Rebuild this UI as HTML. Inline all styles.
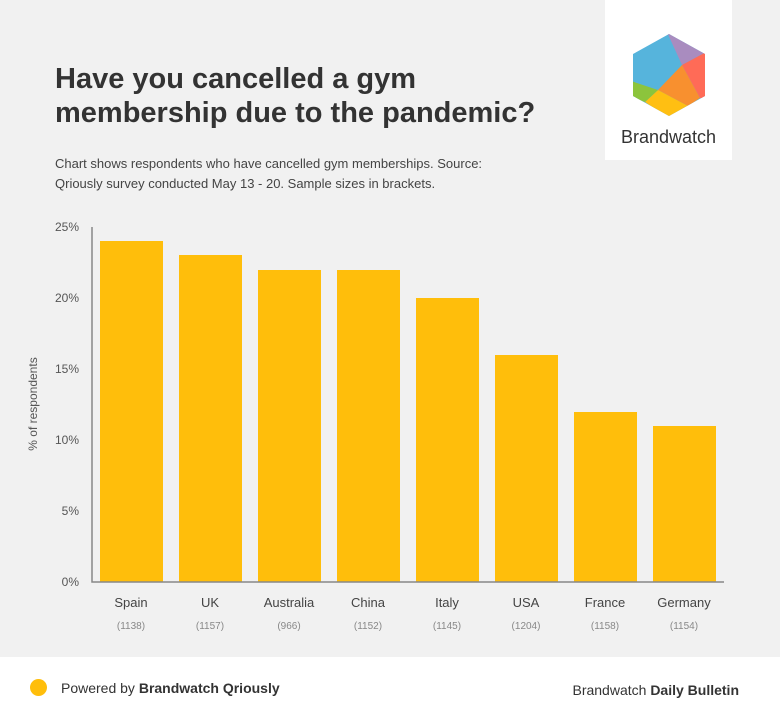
<!DOCTYPE html><html><head><style>
body{margin:0;width:780px;height:718px;background:#f1f1f1;font-family:"Liberation Sans",Arial,sans-serif;position:relative;overflow:hidden}
.a{position:absolute}
</style></head><body>
<div class="a" style="left:605px;top:0;width:127px;height:160px;background:#fff"></div>
<svg class="a" style="left:628px;top:33px" width="84" height="84" viewBox="628 33 84 84">
<defs><clipPath id="h"><polygon points="669,34 705,54 705,96 669,116 633,96 633,54" stroke-linejoin="round"/></clipPath></defs>
<g clip-path="url(#h)">
<rect x="628" y="33" width="84" height="84" fill="#56b4dc"/>
<polygon points="666,30 710,30 710,50 682,65" fill="#a98cbf"/>
<polygon points="682,65 710,50 710,100 700,98" fill="#ff6b57"/>
<polygon points="682,65 700,98 688,106 658,90" fill="#f8902f"/>
<polygon points="658,90 688,106 669,118 645,102" fill="#ffbf12"/>
<polygon points="628,80 658,90 645,102 628,96" fill="#8cc43c"/>
</g></svg>
<div class="a" style="left:605px;top:127px;width:127px;text-align:center;font-size:18px;color:#333">Brandwatch</div>
<div class="a" style="left:55px;top:62px;font-size:29px;font-weight:bold;color:#333;line-height:34px">Have you cancelled a gym<br>membership due to the pandemic?</div>
<div class="a" style="left:55px;top:154px;font-size:13px;color:#444;line-height:20px">Chart shows respondents who have cancelled gym memberships. Source:<br>Qriously survey conducted May 13 - 20. Sample sizes in brackets.</div>
<svg class="a" style="left:0;top:0" width="780" height="718">
<g font-size="12" fill="#555" text-anchor="end" font-family="Liberation Sans">
<text x="79" y="231">25%</text><text x="79" y="302">20%</text><text x="79" y="373">15%</text><text x="79" y="444">10%</text><text x="79" y="515">5%</text><text x="79" y="586">0%</text>
</g>
<text transform="translate(37,404) rotate(-90)" font-size="12" fill="#555" text-anchor="middle">% of respondents</text>
<g fill="#ffbe0b">
<rect x="100" y="241" width="63" height="341"/><rect x="179" y="255" width="63" height="327"/>
<rect x="258" y="270" width="63" height="312"/><rect x="337" y="270" width="63" height="312"/>
<rect x="416" y="298" width="63" height="284"/><rect x="495" y="355" width="63" height="227"/>
<rect x="574" y="412" width="63" height="170"/><rect x="653" y="426" width="63" height="156"/>
</g>
<path d="M92 227V582H724" stroke="#888" fill="none" stroke-width="1.5"/>
<g font-size="13" fill="#444" text-anchor="middle">
<text x="131" y="607">Spain</text><text x="210" y="607">UK</text><text x="289" y="607">Australia</text><text x="368" y="607">China</text><text x="447" y="607">Italy</text><text x="526" y="607">USA</text><text x="605" y="607">France</text><text x="684" y="607">Germany</text>
</g>
<g font-size="10" fill="#888" text-anchor="middle">
<text x="131" y="629">(1138)</text><text x="210" y="629">(1157)</text><text x="289" y="629">(966)</text><text x="368" y="629">(1152)</text><text x="447" y="629">(1145)</text><text x="526" y="629">(1204)</text><text x="605" y="629">(1158)</text><text x="684" y="629">(1154)</text>
</g>
</svg>
<div class="a" style="left:0;top:657px;width:780px;height:61px;background:#fff"></div>
<div class="a" style="left:30px;top:679px;width:17px;height:17px;border-radius:50%;background:#ffbe0b"></div>
<div class="a" style="left:61px;top:680px;font-size:14px;color:#333">Powered by <b>Brandwatch Qriously</b></div>
<div class="a" style="right:41px;top:682px;font-size:14px;color:#333">Brandwatch <b>Daily Bulletin</b></div>
</body></html>
